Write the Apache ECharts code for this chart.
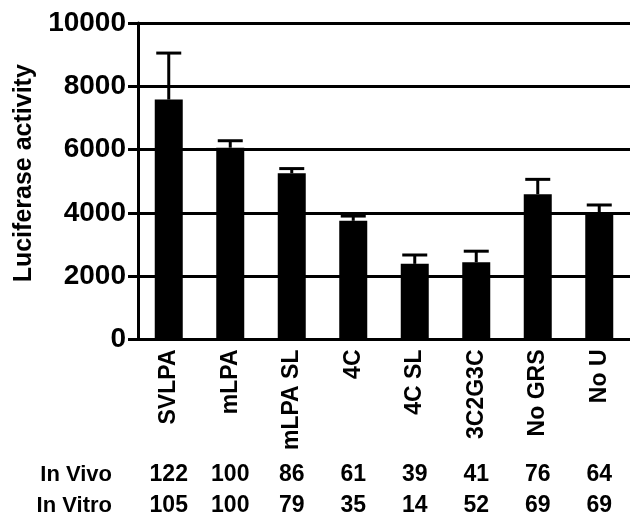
<!DOCTYPE html>
<html>
<head>
<meta charset="utf-8">
<script src="https://cdn.jsdelivr.net/npm/echarts@6/dist/echarts.min.js"></script>
<style>html,body{margin:0;padding:0;background:#fff}#c{width:630px;height:517px}</style>
</head>
<body>
<div id="c"></div>
<script>
var categories = ['SVLPA', 'mLPA', 'mLPA SL', '4C', '4C SL', '3C2G3C', 'No GRS', 'No U'];
var activity = [7580, 6060, 5250, 3750, 2390, 2440, 4590, 3980];
var errorTop = [9050, 6280, 5400, 3900, 2670, 2790, 5060, 4250];
var inVivo = [122, 100, 86, 61, 39, 41, 76, 64];
var inVitro = [105, 100, 79, 35, 14, 52, 69, 69];
var yTicks = [0, 2000, 4000, 6000, 8000, 10000];

var FONT = 'Liberation Sans, Arial, Helvetica, sans-serif';
var chart = echarts.init(document.getElementById('c'), null, {renderer: 'canvas'});

function rowAxis(values, offset, name) {
  return {
    type: 'category', gridIndex: 0, position: 'bottom', offset: offset,
    data: categories,
    axisLine: {show: false}, axisTick: {show: false},
    axisLabel: {
      interval: 0, margin: 0, verticalAlign: 'middle',
      fontFamily: FONT, fontWeight: 'bold', fontSize: 23, color: '#000',
      formatter: function (v, i) { return String(values[i]); }
    },
    name: name, nameLocation: 'start', nameGap: 26,
    nameTextStyle: {fontFamily: FONT, fontWeight: 'bold', fontSize: 22, color: '#000', verticalAlign: 'middle'}
  };
}

chart.setOption({
  animation: false,
  backgroundColor: '#fff',
  grid: {left: 138, right: -5, top: 23, bottom: 176, containLabel: false},
  xAxis: [
    {
      type: 'category', data: categories,
      axisLine: {show: true, lineStyle: {color: '#000', width: 3}},
      axisTick: {show: false},
      axisLabel: {
        interval: 0, rotate: 90, margin: 10,
        fontFamily: FONT, fontWeight: 'bold', fontSize: 23, color: '#000'
      }
    },
    rowAxis(inVivo, 135, 'In Vivo'),
    rowAxis(inVitro, 166, 'In Vitro')
  ],
  yAxis: {
    type: 'value', min: 0, max: 10000, interval: 2000,
    axisLine: {show: true, lineStyle: {color: '#000', width: 3}},
    axisTick: {show: true, length: 10, lineStyle: {color: '#000', width: 3}},
    splitLine: {show: true, lineStyle: {color: '#000', width: 3}},
    axisLabel: {
      margin: 12, fontFamily: FONT, fontWeight: 'bold', fontSize: 28, color: '#000',
      formatter: function (v) { return yTicks.indexOf(v) >= 0 ? String(v) : ''; }
    },
    name: 'Luciferase activity', nameLocation: 'middle', nameGap: 101,
    nameTextStyle: {fontFamily: FONT, fontWeight: 'bold', fontSize: 25, color: '#000', padding: [0, 0, 0, 16]}
  },
  series: [
    {
      type: 'bar', data: activity, barWidth: 28,
      itemStyle: {color: '#000'}
    },
    {
      type: 'custom',
      data: categories.map(function (c, i) { return [i, activity[i], errorTop[i]]; }),
      encode: {x: 0, y: 2},
      z: 5,
      renderItem: function (params, api) {
        var i = api.value(0);
        var base = api.coord([i, api.value(1)]);
        var top = api.coord([i, api.value(2)]);
        var half = 12.5;
        var st = {stroke: '#000', lineWidth: 3};
        return {
          type: 'group',
          children: [
            {type: 'line', shape: {x1: base[0], y1: base[1], x2: top[0], y2: top[1]}, style: st},
            {type: 'line', shape: {x1: top[0] - half, y1: top[1], x2: top[0] + half, y2: top[1]}, style: st}
          ]
        };
      }
    }
  ]
});
</script>
</body>
</html>
